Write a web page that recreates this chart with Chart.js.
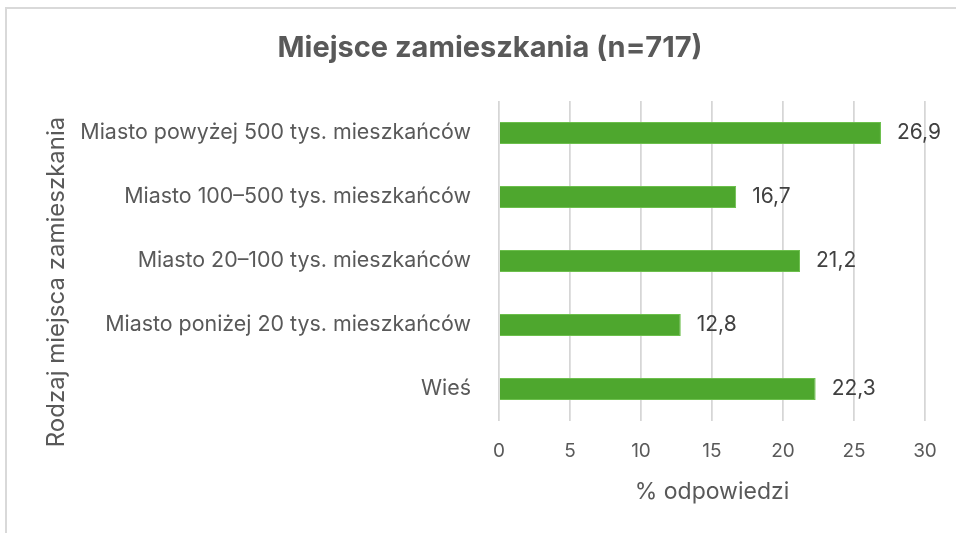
<!DOCTYPE html>
<html lang="pl">
<head>
<meta charset="utf-8">
<title>Miejsce zamieszkania</title>
<script src="https://cdn.jsdelivr.net/npm/chart.js@4"></script>
<style>
    html, body { margin: 0; padding: 0; background: #fff; }
    #wrap { position: relative; width: 956px; height: 533px; overflow: hidden; }
    #frame {
        position: absolute; left: 5px; top: 7px; right: -4px; bottom: -4px;
        border-left: 2px solid #d9d9d9; border-top: 2px solid #d9d9d9;
    }
    #chart { position: absolute; left: 0; top: 0; }
</style>
</head>
<body>
<div id="wrap">
    <div id="frame"></div>
    <canvas id="chart" width="956" height="533"></canvas>
</div>
<script>
    // Categories and percentages of answers
    const categories = [
        'Miasto powyżej 500 tys. mieszkańców',
        'Miasto 100–500 tys. mieszkańców',
        'Miasto 20–100 tys. mieszkańców',
        'Miasto poniżej 20 tys. mieszkańców',
        'Wieś'
    ];
    const shares = [26.9, 16.7, 21.2, 12.8, 22.3];
    const xTicks = [0, 5, 10, 15, 20, 25, 30];

    const FONT = 'Inter, "Noto Sans", sans-serif';
    const GREY = '#595959';

    const fmt = v => v.toFixed(1).replace('.', ',');

    // Values printed to the right of each bar
    const valueLabels = {
        id: 'valueLabels',
        afterDatasetsDraw(chart) {
            const ctx = chart.ctx;
            const meta = chart.getDatasetMeta(0);
            ctx.save();
            ctx.font = '21px ' + FONT;
            ctx.fillStyle = '#404040';
            ctx.textAlign = 'left';
            ctx.textBaseline = 'middle';
            meta.data.forEach((bar, i) => {
                ctx.fillText(fmt(shares[i]), bar.x + 16, bar.y);
            });
            ctx.restore();
        }
    };

    // Chart title and the vertical axis title (placed off the plot centre)
    const titles = {
        id: 'titles',
        afterDraw(chart) {
            const ctx = chart.ctx;
            ctx.save();
            ctx.fillStyle = GREY;
            ctx.textAlign = 'center';
            ctx.textBaseline = 'middle';
            ctx.font = 'bold 29px ' + FONT;
            ctx.fillText('Miejsce zamieszkania (n=717)', 490, 48);

            ctx.translate(57, 282);
            ctx.rotate(-Math.PI / 2);
            ctx.font = '24px ' + FONT;
            ctx.fillText('Rodzaj miejsca zamieszkania', 0, 0);
            ctx.restore();
        }
    };

    const ctx = document.getElementById('chart').getContext('2d');
    const chart = new Chart(ctx, {
        type: 'bar',
        data: {
            labels: categories,
            datasets: [{
                data: shares,
                backgroundColor: '#4ea72e',
                borderColor: '#6cbf4c',
                borderWidth: 1,
                categoryPercentage: 1,
                barPercentage: 0.344
            }]
        },
        options: {
            indexAxis: 'y',
            responsive: false,
            animation: false,
            layout: { padding: { top: 101, right: 31, bottom: 0, left: 0 } },
            plugins: {
                legend: { display: false },
                tooltip: { enabled: false },
                title: { display: false }
            },
            scales: {
                x: {
                    min: 0,
                    max: 30,
                    afterBuildTicks: axis => {
                        axis.ticks = xTicks.map(v => ({ value: v }));
                    },
                    afterFit: axis => { axis.height = 112; },
                    grid: { color: '#d6d6d6', lineWidth: 1.75, drawTicks: false },
                    border: { display: false },
                    ticks: {
                        color: GREY,
                        padding: 19,
                        font: { family: FONT, size: 19 }
                    },
                    title: {
                        display: true,
                        text: '% odpowiedzi',
                        color: GREY,
                        font: { family: FONT, size: 23 },
                        padding: { top: 0, bottom: 27 }
                    }
                },
                y: {
                    afterFit: axis => { axis.width = 499; },
                    grid: { display: false, drawTicks: false },
                    border: { display: false },
                    ticks: {
                        color: GREY,
                        padding: 28,
                        font: { family: FONT, size: 21.4 }
                    }
                }
            }
        },
        plugins: [valueLabels, titles]
    });
</script>
</body>
</html>
